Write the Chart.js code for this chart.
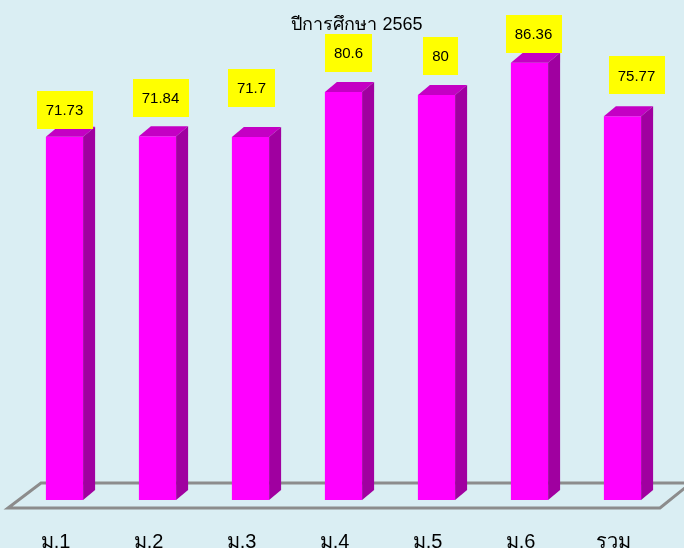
<!DOCTYPE html>
<html>
<head>
<meta charset="utf-8">
<script src="https://cdn.jsdelivr.net/npm/chart.js@4.4.1/dist/chart.umd.min.js"></script>
<style>
  html, body { margin: 0; padding: 0; background: #daeef3; }
  #wrap { width: 684px; height: 548px; }
</style>
</head>
<body>
<div id="wrap"><canvas id="chart" width="684" height="548"></canvas></div>
<script>
const categories = ['ม.1', 'ม.2', 'ม.3', 'ม.4', 'ม.5', 'ม.6', 'รวม'];
const scores = [71.73, 71.84, 71.7, 80.6, 80, 86.36, 75.77];
const titleText = 'ปีการศึกษา 2565';

// how far each value box sits above / beside its bar (px)
const labelLift = [8, 19, 30, 20, 20, 10, 22];
const labelNudge = [0, 3, 1, 5, 4, 4, 14];

const BG = '#daeef3';
const DEPTH_X = 12, DEPTH_Y = 10;

const backdrop = {
  id: 'backdrop',
  beforeDraw(chart) {
    const { ctx, width, height } = chart;
    ctx.save();
    ctx.fillStyle = BG;
    ctx.fillRect(0, 0, width, height);
    ctx.restore();
  }
};

// gray floor plate under the bars
const floor = {
  id: 'floor',
  beforeDatasetsDraw(chart) {
    const { ctx, chartArea: { left, right, bottom } } = chart;
    ctx.save();
    ctx.strokeStyle = '#8c8c8c';
    ctx.lineWidth = 3;
    ctx.lineJoin = 'miter';
    ctx.beginPath();
    ctx.moveTo(left - 10, bottom + 8);
    ctx.lineTo(right - 9, bottom + 8);
    ctx.lineTo(right + 22, bottom - 17);
    ctx.lineTo(left + 23, bottom - 17);
    ctx.closePath();
    ctx.stroke();
    ctx.restore();
  }
};

// top and side faces give the bars their box look
const box3d = {
  id: 'box3d',
  afterDatasetsDraw(chart) {
    const { ctx } = chart;
    const meta = chart.getDatasetMeta(0);
    ctx.save();
    meta.data.forEach(bar => {
      const half = bar.width / 2;
      const l = bar.x - half, r = bar.x + half, t = bar.y, b = bar.base;
      ctx.fillStyle = '#c400c4';
      ctx.beginPath();
      ctx.moveTo(l, t);
      ctx.lineTo(l + DEPTH_X, t - DEPTH_Y);
      ctx.lineTo(r + DEPTH_X, t - DEPTH_Y);
      ctx.lineTo(r, t);
      ctx.closePath();
      ctx.fill();
      ctx.fillStyle = '#a000a0';
      ctx.beginPath();
      ctx.moveTo(r, t);
      ctx.lineTo(r + DEPTH_X, t - DEPTH_Y);
      ctx.lineTo(r + DEPTH_X, b - DEPTH_Y);
      ctx.lineTo(r, b);
      ctx.closePath();
      ctx.fill();
    });
    ctx.restore();
  }
};

// yellow value boxes
const valueBoxes = {
  id: 'valueBoxes',
  afterDatasetsDraw(chart) {
    const { ctx } = chart;
    const meta = chart.getDatasetMeta(0);
    ctx.save();
    ctx.font = '15px "Liberation Sans", Arial, sans-serif';
    ctx.textAlign = 'center';
    ctx.textBaseline = 'middle';
    meta.data.forEach((bar, i) => {
      const txt = String(scores[i]);
      const w = ctx.measureText(txt).width + 18;
      const h = 38;
      const cx = bar.x + labelNudge[i];
      const bottom = bar.y - labelLift[i];
      ctx.fillStyle = '#ffff00';
      ctx.fillRect(Math.round(cx - w / 2), Math.round(bottom - h), Math.round(w), h);
      ctx.fillStyle = '#000';
      ctx.fillText(txt, cx, bottom - h / 2 + 1);
    });
    ctx.restore();
  }
};

const heading = {
  id: 'heading',
  afterDraw(chart) {
    const { ctx } = chart;
    ctx.save();
    ctx.font = '18px "Liberation Sans", Arial, sans-serif';
    ctx.fillStyle = '#000';
    ctx.textAlign = 'center';
    ctx.textBaseline = 'alphabetic';
    ctx.fillText(titleText, 357, 30);
    ctx.restore();
  }
};

new Chart(document.getElementById('chart'), {
  type: 'bar',
  data: {
    labels: categories,
    datasets: [{
      data: scores,
      backgroundColor: '#ff00ff',
      borderWidth: 0,
      barPercentage: 0.4,
      categoryPercentage: 1
    }]
  },
  options: {
    responsive: false,
    animation: false,
    layout: { padding: { top: 19, left: 18, right: 15, bottom: 0 } },
    scales: {
      x: {
        grid: { display: false, drawTicks: false },
        border: { display: false },
        ticks: {
          color: '#000',
          font: { family: '"Liberation Sans", Arial, sans-serif', size: 20 },
          padding: 30,
          labelOffset: -9
        },
        afterFit(scale) { scale.height = 48; }
      },
      y: { display: false, min: 0, max: 95 }
    },
    plugins: {
      legend: { display: false },
      tooltip: { enabled: false }
    }
  },
  plugins: [backdrop, floor, box3d, valueBoxes, heading]
});
</script>
</body>
</html>
